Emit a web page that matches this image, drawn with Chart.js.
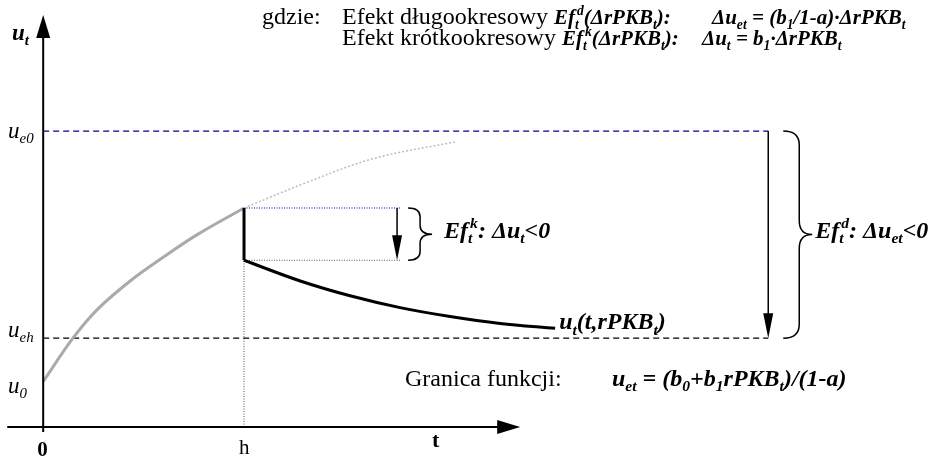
<!DOCTYPE html>
<html>
<head>
<meta charset="utf-8">
<script src="https://cdn.jsdelivr.net/npm/chart.js@4"></script>
<style>
html, body { margin: 0; padding: 0; background: #fff; }
canvas { display: block; }
</style>
</head>
<body>
<canvas id="diagram" width="947" height="458"></canvas>
<script>
// Levels on the u axis (arbitrary units)
const uE0 = 3.0;        // old equilibrium u_e0
const uEh = 0.90;       // new equilibrium u_eh
const u0 = 0.46;        // starting value u_0
const hT = 1.0;         // moment of the shock h

// Path of u_t before the shock
const pathT = [0, 0.148, 0.269, 0.433, 0.597, 0.767, 1.0];
const pathU = [0.46, 0.90, 1.19, 1.48, 1.72, 1.95, 2.22];

// Path without the shock (dotted continuation)
const noShockT = [1.0, 1.314, 1.643, 2.051];
const noShockU = [2.22, 2.48, 2.72, 2.89];

// Path after the shock
const shockT = [1.0, 1.280, 1.528, 1.777, 2.026, 2.275, 2.549];
const shockU = [1.69, 1.48, 1.33, 1.21, 1.12, 1.05, 1.00];

// Short-run effect: marker span and arrow
const shortEndT = 1.777;
const shortArrowT = 1.762;
// Long-run effect: line length and arrow
const longEndT = 3.61;

const pts = (ts, us) => ts.map((t, i) => ({ x: t, y: us[i] }));

function line(data, color, width, dash, smooth) {
    return {
        data: data,
        showLine: true,
        borderColor: color,
        borderWidth: width,
        borderDash: dash || [],
        pointRadius: 0,
        fill: false,
        tension: smooth ? 0.35 : 0
    };
}

const uH = pathU[pathU.length - 1];
const uShock = shockU[0];

const datasets = [
    // axes
    line([{ x: 0, y: -0.05 }, { x: 0, y: 4.0 }], '#000', 2),
    line([{ x: -0.179, y: 0 }, { x: 2.30, y: 0 }], '#000', 2),
    // curves
    line(pts(shockT, shockU), '#000', 3, [], true),
    line([{ x: hT, y: uH }, { x: hT, y: uShock }], '#000', 3),
    line(pts(pathT, pathU), '#aaaaaa', 3, [], true),
    line(pts(noShockT, noShockU), '#bdbdbd', 1.5, [2, 2], true),
    // arrows (shafts)
    line([{ x: shortArrowT, y: uH }, { x: shortArrowT, y: uShock + 0.2 }], '#000', 1.5),
    line([{ x: longEndT, y: uE0 }, { x: longEndT, y: uEh + 0.2 }], '#000', 1.5),
    // guides
    line([{ x: hT, y: uH }, { x: shortEndT, y: uH }], '#0000a0', 1, [1, 1.5]),
    line([{ x: hT, y: uShock }, { x: shortEndT, y: uShock }], '#555', 1, [1, 1.5]),
    line([{ x: hT, y: 0 }, { x: hT, y: uH }], '#555', 1, [1, 1.5]),
    line([{ x: 0, y: uE0 }, { x: longEndT, y: uE0 }], '#00008b', 1.2, [6, 4]),
    line([{ x: 0, y: uEh }, { x: longEndT, y: uEh }], '#000', 1.2, [6, 4])
];

const SERIF = '"Liberation Serif", "Times New Roman", serif';

function fontOf(style, size) {
    return (style.includes('i') ? 'italic ' : '') + (style.includes('b') ? 'bold ' : '') + size + 'px ' + SERIF;
}

// draws text made of parts: [text, style, kind] where kind is '', 'sub', 'sup' or 'ss' (text = [sub, sup])
function rich(ctx, x, y, parts, size) {
    let cx = x;
    ctx.textBaseline = 'alphabetic';
    ctx.textAlign = 'left';
    ctx.fillStyle = '#000';
    for (const [text, style, kind] of parts) {
        if (kind === 'sub' || kind === 'sup') {
            const s = size * 0.65;
            ctx.font = fontOf(style, s);
            ctx.fillText(text, cx, y + (kind === 'sub' ? size * 0.22 : -size * 0.42));
            cx += ctx.measureText(text).width;
        } else if (kind === 'ss') {
            const s = size * 0.65;
            ctx.font = fontOf(style, s);
            ctx.fillText(text[0], cx, y + size * 0.22);
            ctx.fillText(text[1], cx + 2, y - size * 0.42);
            cx += Math.max(ctx.measureText(text[0]).width, ctx.measureText(text[1]).width + 2);
        } else {
            ctx.font = fontOf(style, size);
            ctx.fillText(text, cx, y);
            cx += ctx.measureText(text).width;
        }
    }
    return cx;
}

function arrowHead(ctx, tipX, tipY, dir, len, half) {
    ctx.beginPath();
    if (dir === 'up') {
        ctx.moveTo(tipX, tipY); ctx.lineTo(tipX - half, tipY + len); ctx.lineTo(tipX + half, tipY + len);
    } else if (dir === 'down') {
        ctx.moveTo(tipX, tipY); ctx.lineTo(tipX - half, tipY - len); ctx.lineTo(tipX + half, tipY - len);
    } else {
        ctx.moveTo(tipX, tipY); ctx.lineTo(tipX - len, tipY - half); ctx.lineTo(tipX - len, tipY + half);
    }
    ctx.closePath();
    ctx.fillStyle = '#000';
    ctx.fill();
}

function brace(ctx, x0, xv, xt, top, bottom, r) {
    const mid = (top + bottom) / 2;
    ctx.beginPath();
    ctx.moveTo(x0, top);
    ctx.quadraticCurveTo(xv, top, xv, top + r);
    ctx.lineTo(xv, mid - r);
    ctx.quadraticCurveTo(xv, mid, xt, mid);
    ctx.quadraticCurveTo(xv, mid, xv, mid + r);
    ctx.lineTo(xv, bottom - r);
    ctx.quadraticCurveTo(xv, bottom, x0, bottom);
    ctx.strokeStyle = '#000';
    ctx.lineWidth = 1.5;
    ctx.setLineDash([]);
    ctx.stroke();
}

const annotations = {
    id: 'annotations',
    afterDatasetsDraw(chart) {
        const { ctx, scales: { x, y } } = chart;
        const px = t => x.getPixelForValue(t);
        const py = u => y.getPixelForValue(u);
        ctx.save();

        // arrow heads
        arrowHead(ctx, px(0), py(4.176), 'up', 23, 7);
        arrowHead(ctx, px(2.375), py(0), 'right', 23, 7);
        arrowHead(ctx, px(shortArrowT), py(uShock), 'down', 25, 5);
        arrowHead(ctx, px(longEndT), py(uEh), 'down', 25, 5);

        // braces
        brace(ctx, px(shortEndT) + 8, px(shortEndT) + 20, px(shortEndT) + 32, py(uH), py(uShock), 9);
        brace(ctx, px(longEndT) + 15, px(longEndT) + 31, px(longEndT) + 44, py(uE0), py(uEh), 14);

        // axis labels
        rich(ctx, 12, 40, [['u', 'bi'], ['t', 'bi', 'sub']], 23);
        rich(ctx, 8, py(uE0) + 7, [['u', 'i'], ['e0', 'i', 'sub']], 23);
        rich(ctx, 8, py(uEh) - 1, [['u', 'i'], ['eh', 'i', 'sub']], 23);
        rich(ctx, 8, py(u0) + 11, [['u', 'i'], ['0', 'i', 'sub']], 23);
        rich(ctx, px(0) - 6, 456, [['0', 'b']], 21);
        rich(ctx, px(hT) - 5, 454, [['h', 'r']], 21);
        rich(ctx, 432, 447, [['t', 'b']], 22);

        // header
        const S = 24, B = 21;
        rich(ctx, 262, 24, [['gdzie:', 'r']], S);
        let cx = rich(ctx, 342, 24, [['Efekt długookresowy ', 'r']], S);
        rich(ctx, cx, 24, [['Ef', 'bi'], [['t', 'd'], 'bi', 'ss'],
            ['(ΔrPKB', 'bi'], ['t', 'bi', 'sub'], ['):', 'bi']], B);
        rich(ctx, 712, 24, [['Δu', 'bi'], ['et', 'bi', 'sub'], [' = (b', 'bi'], ['1', 'bi', 'sub'],
            ['/1-a)·ΔrPKB', 'bi'], ['t', 'bi', 'sub']], B);
        cx = rich(ctx, 342, 45, [['Efekt krótkookresowy ', 'r']], S);
        rich(ctx, cx, 45, [['Ef', 'bi'], [['t', 'k'], 'bi', 'ss'],
            ['(ΔrPKB', 'bi'], ['t', 'bi', 'sub'], ['):', 'bi']], B);
        rich(ctx, 702, 45, [['Δu', 'bi'], ['t', 'bi', 'sub'], [' = b', 'bi'], ['1', 'bi', 'sub'],
            ['·ΔrPKB', 'bi'], ['t', 'bi', 'sub']], B);

        // effect labels
        rich(ctx, px(shortEndT) + 44, 238, [['Ef', 'bi'], [['t', 'k'], 'bi', 'ss'],
            [': Δu', 'bi'], ['t', 'bi', 'sub'], ['<0', 'bi']], 24);
        rich(ctx, px(longEndT) + 47, 238, [['Ef', 'bi'], [['t', 'd'], 'bi', 'ss'],
            [': Δu', 'bi'], ['et', 'bi', 'sub'], ['<0', 'bi']], 24);

        // curve label and limit
        rich(ctx, px(shockT[shockT.length - 1]) + 4, py(shockU[shockU.length - 1]) + 1,
            [['u', 'bi'], ['t', 'bi', 'sub'], ['(t,rPKB', 'bi'], ['t', 'bi', 'sub'], [')', 'bi']], 24);
        rich(ctx, 405, 386, [['Granica funkcji:', 'r']], 24);
        rich(ctx, 612, 386, [['u', 'bi'], ['et', 'bi', 'sub'], [' = (b', 'bi'], ['0', 'bi', 'sub'],
            ['+b', 'bi'], ['1', 'bi', 'sub'], ['rPKB', 'bi'], ['t', 'bi', 'sub'], [')/(1-a)', 'bi']], 24);

        ctx.restore();
    }
};

new Chart(document.getElementById('diagram'), {
    type: 'scatter',
    data: { datasets: datasets },
    options: {
        responsive: false,
        animation: false,
        events: [],
        layout: { padding: 0 },
        plugins: { legend: { display: false }, tooltip: { enabled: false } },
        scales: {
            x: { type: 'linear', display: false, min: -0.215, max: 4.5 },
            y: { type: 'linear', display: false, min: -0.314, max: 4.328 }
        }
    },
    plugins: [annotations]
});
</script>
</body>
</html>
